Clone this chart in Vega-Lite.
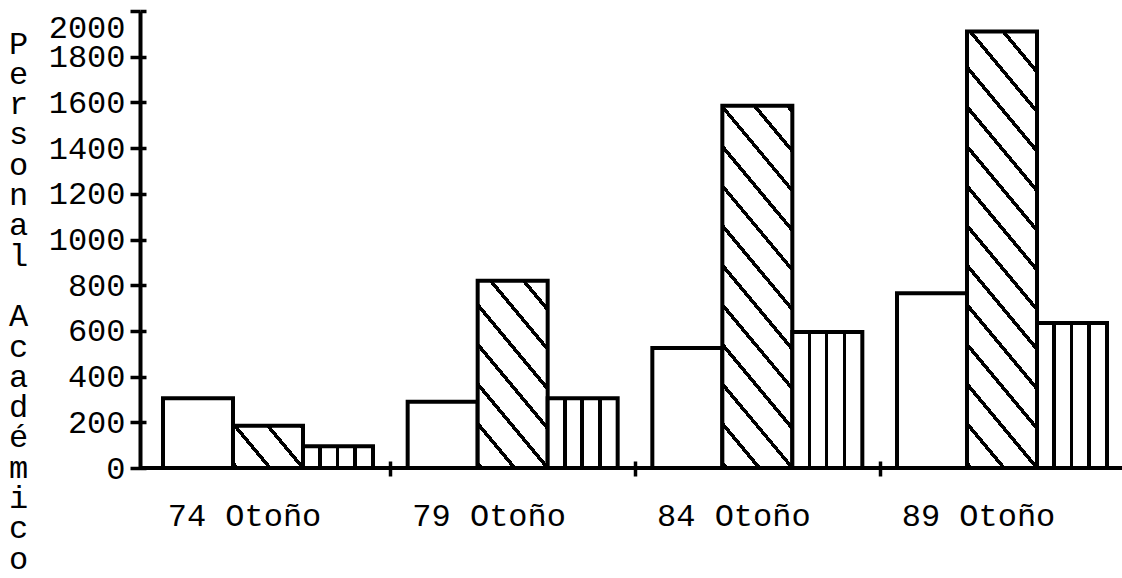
{
  "$schema": "https://vega.github.io/schema/vega-lite/v6.json",
  "width": 982,
  "height": 457,
  "autosize": {"type": "none"},
  "padding": {"left": 140, "top": 11, "right": 0, "bottom": 110},
  "background": "white",
  "config": {"view": {"stroke": null}, "font": "Liberation Mono"},
  "data": {
    "values": [
      {"periodo": "74 Otoño", "serie": "Serie 1", "valor": 305},
      {"periodo": "74 Otoño", "serie": "Serie 2", "valor": 185},
      {"periodo": "74 Otoño", "serie": "Serie 3", "valor": 95},
      {"periodo": "79 Otoño", "serie": "Serie 1", "valor": 290},
      {"periodo": "79 Otoño", "serie": "Serie 2", "valor": 820},
      {"periodo": "79 Otoño", "serie": "Serie 3", "valor": 305},
      {"periodo": "84 Otoño", "serie": "Serie 1", "valor": 525},
      {"periodo": "84 Otoño", "serie": "Serie 2", "valor": 1585},
      {"periodo": "84 Otoño", "serie": "Serie 3", "valor": 595},
      {"periodo": "89 Otoño", "serie": "Serie 1", "valor": 765},
      {"periodo": "89 Otoño", "serie": "Serie 2", "valor": 1910},
      {"periodo": "89 Otoño", "serie": "Serie 3", "valor": 635}
    ]
  },
  "layer": [
    {
      "mark": {"type": "bar", "stroke": "black", "strokeWidth": 4, "strokeJoin": "miter"},
      "encoding": {
        "x": {
          "field": "periodo",
          "type": "nominal",
          "sort": ["74 Otoño", "79 Otoño", "84 Otoño", "89 Otoño"],
          "scale": {"range": [23, 967], "paddingInner": 0.1417, "paddingOuter": 0},
          "axis": {
            "domain": false,
            "ticks": true,
            "tickOffset": 122.3,
            "tickSize": 15,
            "tickWidth": 3.5,
            "tickColor": "black",
            "offset": -7,
            "labelFont": "Liberation Mono",
            "labelFontSize": 32,
            "labelColor": "black",
            "labelAngle": 0,
            "labelOffset": -146.3,
            "labelPadding": 24,
            "title": null,
            "grid": false
          }
        },
        "xOffset": {
          "field": "serie",
          "type": "nominal",
          "sort": ["Serie 1", "Serie 2", "Serie 3"],
          "scale": {"paddingInner": 0, "paddingOuter": 0}
        },
        "y": {
          "field": "valor",
          "type": "quantitative",
          "scale": {"domain": [0, 2000], "nice": false},
          "axis": {
            "orient": "left",
            "values": [0, 200, 400, 600, 800, 1000, 1200, 1400, 1600, 1800, 2000],
            "format": "d",
            "domain": true,
            "domainColor": "black",
            "domainWidth": 4,
            "ticks": true,
            "tickSize": 10,
            "tickWidth": 3.5,
            "tickColor": "black",
            "labelFont": "Liberation Mono",
            "labelFontSize": 32,
            "labelColor": "black",
            "labelPadding": 5,
            "labelFlush": false,
            "labelOverlap": false,
            "labelOffset": {"condition": {"test": "datum.value === 2000", "value": 16}, "value": 0},
            "grid": false,
            "title": ["P", "e", "r", "s", "o", "n", "a", "l", "\u200b", "A", "c", "a", "d", "é", "m", "i", "c", "o"],
            "titleFont": "Liberation Mono",
            "titleFontSize": 32,
            "titleFontWeight": "normal",
            "titleColor": "black",
            "titleAngle": 0,
            "titleAlign": "center",
            "titleBaseline": "middle",
            "titleX": -122,
            "titleY": 32,
            "titleLineHeight": 30.3
          }
        },
        "fill": {
          "condition": [
            {
              "test": "datum.serie === 'Serie 2' && datum.periodo === '74 Otoño'",
              "value": {
                "gradient": "linear", "x1": 0, "y1": 1, "x2": 1.1995, "y2": 0.3964,
                "stops": [
                  {"offset": 0, "color": "white"},
                  {"offset": 0.0163, "color": "white"}, {"offset": 0.0163, "color": "black"}, {"offset": 0.0597, "color": "black"}, {"offset": 0.0597, "color": "white"},
                  {"offset": 0.3299, "color": "white"}, {"offset": 0.3299, "color": "black"}, {"offset": 0.3733, "color": "black"}, {"offset": 0.3733, "color": "white"},
                  {"offset": 0.6435, "color": "white"}, {"offset": 0.6435, "color": "black"}, {"offset": 0.6869, "color": "black"}, {"offset": 0.6869, "color": "white"},
                  {"offset": 0.9571, "color": "white"}, {"offset": 0.9571, "color": "black"}, {"offset": 1, "color": "black"}
                ]
              }
            },
            {
              "test": "datum.serie === 'Serie 2' && datum.periodo === '79 Otoño'",
              "value": {
                "gradient": "linear", "x1": 0, "y1": 1, "x2": 0.5406, "y2": -0.2059,
                "stops": [
                  {"offset": 0, "color": "white"},
                  {"offset": 0.0076, "color": "white"}, {"offset": 0.0076, "color": "black"}, {"offset": 0.0278, "color": "black"}, {"offset": 0.0278, "color": "white"},
                  {"offset": 0.1535, "color": "white"}, {"offset": 0.1535, "color": "black"}, {"offset": 0.1737, "color": "black"}, {"offset": 0.1737, "color": "white"},
                  {"offset": 0.2994, "color": "white"}, {"offset": 0.2994, "color": "black"}, {"offset": 0.3196, "color": "black"}, {"offset": 0.3196, "color": "white"},
                  {"offset": 0.4454, "color": "white"}, {"offset": 0.4454, "color": "black"}, {"offset": 0.4656, "color": "black"}, {"offset": 0.4656, "color": "white"},
                  {"offset": 0.5913, "color": "white"}, {"offset": 0.5913, "color": "black"}, {"offset": 0.6115, "color": "black"}, {"offset": 0.6115, "color": "white"},
                  {"offset": 0.7372, "color": "white"}, {"offset": 0.7372, "color": "black"}, {"offset": 0.7574, "color": "black"}, {"offset": 0.7574, "color": "white"},
                  {"offset": 0.8831, "color": "white"}, {"offset": 0.8831, "color": "black"}, {"offset": 0.9033, "color": "black"}, {"offset": 0.9033, "color": "white"},
                  {"offset": 1, "color": "white"}
                ]
              }
            },
            {
              "test": "datum.serie === 'Serie 2' && datum.periodo === '84 Otoño'",
              "value": {
                "gradient": "linear", "x1": 0, "y1": 1, "x2": 0.2711, "y2": -0.1691,
                "stops": [
                  {"offset": 0, "color": "white"},
                  {"offset": 0.0047, "color": "white"}, {"offset": 0.0047, "color": "black"}, {"offset": 0.0169, "color": "black"}, {"offset": 0.0169, "color": "white"},
                  {"offset": 0.0934, "color": "white"}, {"offset": 0.0934, "color": "black"}, {"offset": 0.1056, "color": "black"}, {"offset": 0.1056, "color": "white"},
                  {"offset": 0.1822, "color": "white"}, {"offset": 0.1822, "color": "black"}, {"offset": 0.1944, "color": "black"}, {"offset": 0.1944, "color": "white"},
                  {"offset": 0.2709, "color": "white"}, {"offset": 0.2709, "color": "black"}, {"offset": 0.2831, "color": "black"}, {"offset": 0.2831, "color": "white"},
                  {"offset": 0.3597, "color": "white"}, {"offset": 0.3597, "color": "black"}, {"offset": 0.3719, "color": "black"}, {"offset": 0.3719, "color": "white"},
                  {"offset": 0.4484, "color": "white"}, {"offset": 0.4484, "color": "black"}, {"offset": 0.4606, "color": "black"}, {"offset": 0.4606, "color": "white"},
                  {"offset": 0.5372, "color": "white"}, {"offset": 0.5372, "color": "black"}, {"offset": 0.5494, "color": "black"}, {"offset": 0.5494, "color": "white"},
                  {"offset": 0.626, "color": "white"}, {"offset": 0.626, "color": "black"}, {"offset": 0.6382, "color": "black"}, {"offset": 0.6382, "color": "white"},
                  {"offset": 0.7147, "color": "white"}, {"offset": 0.7147, "color": "black"}, {"offset": 0.7269, "color": "black"}, {"offset": 0.7269, "color": "white"},
                  {"offset": 0.8035, "color": "white"}, {"offset": 0.8035, "color": "black"}, {"offset": 0.8157, "color": "black"}, {"offset": 0.8157, "color": "white"},
                  {"offset": 0.8922, "color": "white"}, {"offset": 0.8922, "color": "black"}, {"offset": 0.9044, "color": "black"}, {"offset": 0.9044, "color": "white"},
                  {"offset": 0.981, "color": "white"}, {"offset": 0.981, "color": "black"}, {"offset": 0.9932, "color": "black"}, {"offset": 0.9932, "color": "white"},
                  {"offset": 1, "color": "white"}
                ]
              }
            },
            {
              "test": "datum.serie === 'Serie 2' && datum.periodo === '89 Otoño'",
              "value": {
                "gradient": "linear", "x1": 0, "y1": 1, "x2": 0.2213, "y2": -0.1499,
                "stops": [
                  {"offset": 0, "color": "white"},
                  {"offset": 0.0039, "color": "white"}, {"offset": 0.0039, "color": "black"}, {"offset": 0.0145, "color": "black"}, {"offset": 0.0145, "color": "white"},
                  {"offset": 0.08, "color": "white"}, {"offset": 0.08, "color": "black"}, {"offset": 0.0906, "color": "black"}, {"offset": 0.0906, "color": "white"},
                  {"offset": 0.1561, "color": "white"}, {"offset": 0.1561, "color": "black"}, {"offset": 0.1667, "color": "black"}, {"offset": 0.1667, "color": "white"},
                  {"offset": 0.2322, "color": "white"}, {"offset": 0.2322, "color": "black"}, {"offset": 0.2428, "color": "black"}, {"offset": 0.2428, "color": "white"},
                  {"offset": 0.3083, "color": "white"}, {"offset": 0.3083, "color": "black"}, {"offset": 0.3189, "color": "black"}, {"offset": 0.3189, "color": "white"},
                  {"offset": 0.3844, "color": "white"}, {"offset": 0.3844, "color": "black"}, {"offset": 0.395, "color": "black"}, {"offset": 0.395, "color": "white"},
                  {"offset": 0.4605, "color": "white"}, {"offset": 0.4605, "color": "black"}, {"offset": 0.4711, "color": "black"}, {"offset": 0.4711, "color": "white"},
                  {"offset": 0.5366, "color": "white"}, {"offset": 0.5366, "color": "black"}, {"offset": 0.5472, "color": "black"}, {"offset": 0.5472, "color": "white"},
                  {"offset": 0.6126, "color": "white"}, {"offset": 0.6126, "color": "black"}, {"offset": 0.6232, "color": "black"}, {"offset": 0.6232, "color": "white"},
                  {"offset": 0.6887, "color": "white"}, {"offset": 0.6887, "color": "black"}, {"offset": 0.6993, "color": "black"}, {"offset": 0.6993, "color": "white"},
                  {"offset": 0.7648, "color": "white"}, {"offset": 0.7648, "color": "black"}, {"offset": 0.7754, "color": "black"}, {"offset": 0.7754, "color": "white"},
                  {"offset": 0.8409, "color": "white"}, {"offset": 0.8409, "color": "black"}, {"offset": 0.8515, "color": "black"}, {"offset": 0.8515, "color": "white"},
                  {"offset": 0.917, "color": "white"}, {"offset": 0.917, "color": "black"}, {"offset": 0.9276, "color": "black"}, {"offset": 0.9276, "color": "white"},
                  {"offset": 0.9931, "color": "white"}, {"offset": 0.9931, "color": "black"}, {"offset": 1, "color": "black"}
                ]
              }
            },
            {
              "test": "datum.serie === 'Serie 3'",
              "value": {
                "gradient": "linear", "x1": 0, "y1": 0, "x2": 1, "y2": 0,
                "stops": [
                  {"offset": 0, "color": "white"},
                  {"offset": 0.22, "color": "white"}, {"offset": 0.22, "color": "black"}, {"offset": 0.27, "color": "black"}, {"offset": 0.27, "color": "white"},
                  {"offset": 0.465, "color": "white"}, {"offset": 0.465, "color": "black"}, {"offset": 0.515, "color": "black"}, {"offset": 0.515, "color": "white"},
                  {"offset": 0.72, "color": "white"}, {"offset": 0.72, "color": "black"}, {"offset": 0.77, "color": "black"}, {"offset": 0.77, "color": "white"},
                  {"offset": 1, "color": "white"}
                ]
              }
            }
          ],
          "value": "white"
        }
      }
    },
    {
      "mark": {"type": "rule", "stroke": "black", "strokeWidth": 4},
      "encoding": {
        "y": {
          "datum": 0,
          "type": "quantitative",
          "axis": {
            "orient": "left",
            "values": [0, 200, 400, 600, 800, 1000, 1200, 1400, 1600, 1800, 2000],
            "domain": false,
            "labels": false,
            "ticks": true,
            "tickSize": -6,
            "tickWidth": 3.5,
            "tickColor": "black",
            "grid": false,
            "title": null
          }
        }
      }
    }
  ],
  "resolve": {"axis": {"y": "independent"}}
}
